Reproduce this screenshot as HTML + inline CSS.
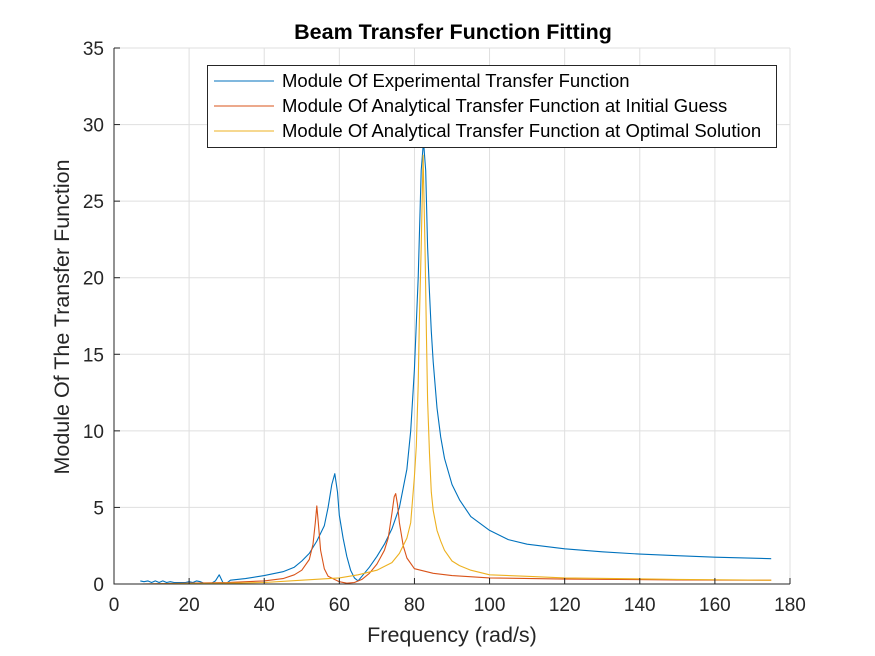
<!DOCTYPE html>
<html><head><meta charset="utf-8"><style>
html,body{margin:0;padding:0;background:#fff}
svg{display:block;font-family:"Liberation Sans",Arial,sans-serif}
</style></head><body>
<svg id="chart" width="875" height="656" viewBox="0 0 875 656">
<rect width="875" height="656" fill="#fff"/>
<g id="grid"></g>
<g id="series"></g>
<g id="axes"></g>
<text x="453" y="39" text-anchor="middle" font-size="21.5" font-weight="bold" fill="#000">Beam Transfer Function Fitting</text>
<text x="452" y="642" text-anchor="middle" font-size="21.5" fill="#262626">Frequency (rad/s)</text>
<text transform="translate(69,317) rotate(-90)" text-anchor="middle" font-size="21.5" fill="#262626">Module Of The Transfer Function</text>
<g>
<rect x="207.5" y="65.5" width="569" height="82" fill="#fff" stroke="#262626" stroke-width="1"/>
<line x1="214" y1="81" x2="274" y2="81" stroke="#0072BD" stroke-width="1"/>
<text x="282" y="87" font-size="18.5" fill="#000">Module Of Experimental Transfer Function</text>
<line x1="214" y1="106" x2="274" y2="106" stroke="#D95319" stroke-width="1"/>
<text x="282" y="112" font-size="18.5" fill="#000">Module Of Analytical Transfer Function at Initial Guess</text>
<line x1="214" y1="131" x2="274" y2="131" stroke="#EDB120" stroke-width="1"/>
<text x="282" y="137" font-size="18.5" fill="#000">Module Of Analytical Transfer Function at Optimal Solution</text>
</g>
</svg>
<script>
const xTicks=[0,20,40,60,80,100,120,140,160,180];
const yTicks=[0,5,10,15,20,25,30,35];
const expFreq=[7,8,9,10,11,12,13,14,15,16,17,18,19,20,21,22,23,24,25,26,27,28,29,30,31,35,40,45,48,50,52,54,56,57,58,58.8,59.5,60,61,62,63,64,65,66,68,70,72,74,76,78,79,80,81,81.8,82.4,83,83.5,84,84.5,85,86,87,88,90,92,95,100,105,110,120,130,140,150,160,175];
const expVal=[0.2,0.15,0.2,0.1,0.2,0.1,0.2,0.1,0.15,0.1,0.1,0.1,0.1,0.15,0.1,0.2,0.15,0.05,0.05,0.05,0.2,0.6,0.1,0.05,0.25,0.35,0.55,0.8,1.1,1.5,2.0,2.8,3.8,5.0,6.5,7.2,6.0,4.5,3.0,1.8,0.9,0.4,0.2,0.5,1.1,1.8,2.6,3.6,5.0,7.5,10,14,20,27,28.9,27,22,19,16.5,14.5,11.5,9.6,8.2,6.5,5.5,4.4,3.5,2.9,2.6,2.3,2.1,1.95,1.85,1.75,1.65];
const initFreq=[7,20,30,40,45,48,50,52,53,53.6,54,54.4,55,56,57,60,62,64,66,68,70,72,73,74,74.6,75,75.5,76,77,78,80,85,90,100,120,150,175];
const initVal=[0,0.05,0.1,0.2,0.35,0.6,0.9,1.6,2.6,4.0,5.1,4.0,2.2,1.0,0.5,0.15,0.05,0.1,0.3,0.7,1.3,2.2,3.0,4.6,5.7,5.9,5.2,4.0,2.5,1.7,1.0,0.7,0.55,0.4,0.32,0.27,0.25];
const optFreq=[7,30,40,50,60,65,70,74,76,78,79,80,80.5,81,81.3,81.8,82.3,82.8,83.2,83.5,84,84.5,85,86,87,88,90,92,95,100,110,120,150,175];
const optVal=[0,0.05,0.1,0.25,0.4,0.6,0.9,1.4,2.0,3.0,4,7,9,13,17,22,28,22,16,12,8.5,6,4.8,3.5,2.8,2.2,1.5,1.2,0.9,0.6,0.5,0.4,0.3,0.25];

const X0=114,X1=790,Y0=584,Y1=48;
const sx=v=>X0+(v-0)/(180-0)*(X1-X0);
const sy=v=>Y0-(v-0)/(35-0)*(Y0-Y1);
const NS="http://www.w3.org/2000/svg";
const mk=(t,a)=>{const e=document.createElementNS(NS,t);for(const k in a)e.setAttribute(k,a[k]);return e;};
const grid=document.getElementById('grid'),axes=document.getElementById('axes'),ser=document.getElementById('series');
xTicks.forEach(t=>{
 const g=mk('line',{x1:sx(t),x2:sx(t),y1:Y1,y2:Y0,stroke:'#dfdfdf','stroke-width':1});
 
 
 grid.appendChild(g);
 const tk=mk('line',{x1:sx(t),x2:sx(t),y1:Y0,y2:Y0-6,stroke:'#262626','stroke-width':1});
 
 
 axes.appendChild(tk);
 const tx=mk('text',{x:sx(t),y:Y0+27,'text-anchor':'middle','font-size':19,fill:'#262626'});
 tx.textContent=t;
 
 
 axes.appendChild(tx);
});
yTicks.forEach(t=>{
 const g=mk('line',{x1:X0,x2:X1,y1:sy(t),y2:sy(t),stroke:'#dfdfdf','stroke-width':1});
 
 
 grid.appendChild(g);
 const tk=mk('line',{x1:X0,x2:X0+6,y1:sy(t),y2:sy(t),stroke:'#262626','stroke-width':1});
 
 
 axes.appendChild(tk);
 const tx=mk('text',{x:X0-10,y:sy(t)+7,'text-anchor':'end','font-size':19,fill:'#262626'});
 tx.textContent=t;
 
 
 axes.appendChild(tx);
});
const ax=mk('path',{d:`M${X0},${Y1}V${Y0}H${X1}`,fill:'none',stroke:'#262626','stroke-width':1});


axes.appendChild(ax);
function line(fr,vals,color,name){
 const d=fr.map((f,i)=>(i?'L':'M')+sx(f).toFixed(1)+','+sy(vals[i]).toFixed(1)).join('');
 const p=mk('path',{d:d,fill:'none',stroke:color,'stroke-width':1.1,'stroke-linejoin':'round'});
 
 
 ser.appendChild(p);
}
line(expFreq,expVal,'#0072BD','experimental-line');
line(initFreq,initVal,'#D95319','initial-guess-line');
line(optFreq,optVal,'#EDB120','optimal-solution-line');
</script>
</body></html>
